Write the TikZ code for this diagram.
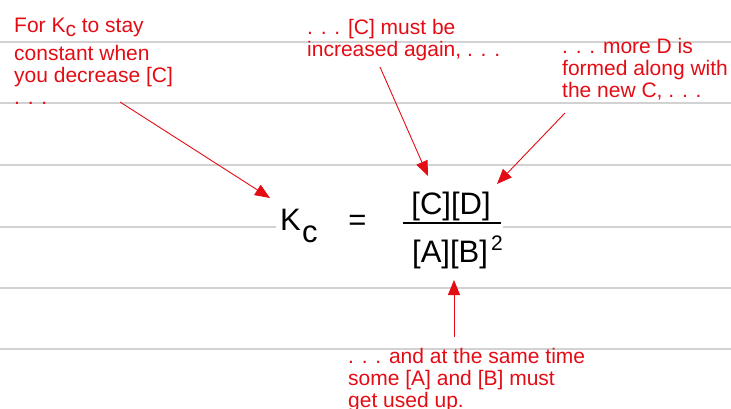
\documentclass[tikz,border=0pt]{standalone}
\usepackage{fontspec}
\setmainfont{Liberation Sans}
\usepackage{xcolor}
\usetikzlibrary{arrows.meta}
\definecolor{notered}{RGB}{228,12,20}
\definecolor{ruling}{RGB}{210,210,210}

\begin{document}
\begin{tikzpicture}[x=1pt,y=-1pt,
		note/.style={text=notered,align=left,anchor=base west,inner sep=0pt,font=\fontsize{21}{22}\selectfont},
		eqtext/.style={inner sep=0pt,font=\fontsize{31}{36}\selectfont},
		pointer/.style={notered,line width=0.9pt,-{Triangle[length=15pt,width=12pt]}}]
			\useasboundingbox (0,0) rectangle (731,409);
			\foreach \y in {42,103.5,165,226.5,288,349}{
				\draw[ruling,line width=2pt] (0,\y) -- (731,\y);
			}
			\fill[white] (276,216) rectangle (503,236);
			\node[eqtext,anchor=base west] (K) at (280,230) {K};
			\node[eqtext,anchor=base west] (c) at (302,242) {c};
			\node[eqtext] (equals) at (357.5,222.5) {=};
			\node[eqtext,anchor=base] (num) at (451,214) {[C][D]};
			\draw[line width=2pt] (403,223) coordinate (barL) -- (501,223) coordinate (barR);
			\node[eqtext,anchor=base west] (den) at (412,262) {[A][B]};
			\node[inner sep=0pt,anchor=base west,font=\fontsize{21}{24}\selectfont] (sq) at (491,250) {2};
			% the base of a note is the baseline of its last line
			\node[note] (stay) at (14,104.3) {For K\raisebox{-4pt}{c} to stay\\[5.5pt]constant when\\you decrease [C]\\. . .};
			\node[note] (again) at (307,56.7) {. . . [C] must be\\increased again, . . .};
			\node[note] (moreD) at (562,97.7) {. . . more D is\\formed along with\\the new C, . . .};
			\node[note] (usedup) at (348,407.5) {. . . and at the same time\\some [A] and [B] must\\get used up.};
			\coordinate (fromStay) at (120,102);
			\coordinate (toK) at (270,198);
			\coordinate (fromAgain) at (380,67);
			\coordinate (toC) at (428,176);
			\coordinate (fromMoreD) at (565,113);
			\coordinate (toD) at (497,184);
			\coordinate (fromUsedup) at (454,337);
			\coordinate (toAB) at (454,280);
			\draw[pointer] (fromStay) -- (toK);
			\draw[pointer] (fromAgain) -- (toC);
			\draw[pointer] (fromMoreD) -- (toD);
			\draw[pointer] (fromUsedup) -- (toAB);
		\end{tikzpicture}
\end{document}
